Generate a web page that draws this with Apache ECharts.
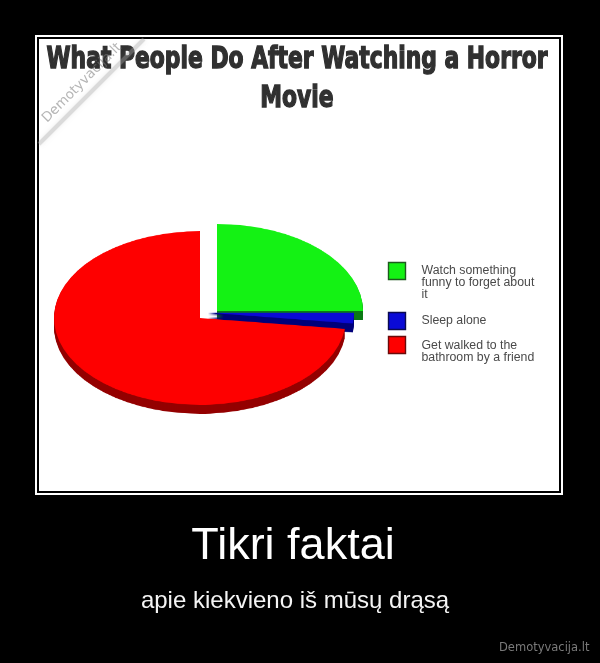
<!DOCTYPE html>
<html>
<head>
<meta charset="utf-8">
<script src="https://cdn.jsdelivr.net/npm/echarts@6/dist/echarts.min.js"></script>
<style>
  html, body { margin: 0; padding: 0; background: #000; }
  #page { position: absolute; left: 0; top: 0; width: 600px; height: 663px; }
  #pie { position: absolute; left: 0; top: 199px; width: 600px; height: 400px;
         transform: scaleY(0.595); transform-origin: 0 0; }
</style>
</head>
<body>
<div id="page"></div>
<div id="pie"></div>
<script>
// ---------- data ----------
const categories = ['Watch something funny to forget about it', 'Sleep alone', 'Get walked to the bathroom by a friend'];
const values = [25, 2, 73];
const legendLabels = ['Watch something\nfunny to forget about\nit', 'Sleep alone', 'Get walked to the\nbathroom by a friend'];
const titleLines = ['What People Do After Watching a Horror', 'Movie'];
const captionTitle = 'Tikri faktai';
const captionText = 'apie kiekvieno iš mūsų drąsą';
const siteMark = 'Demotyvacija.lt';

// ---------- styles / layout ----------
const topColors = ['#14f214', '#0a0ad6', '#fe0000'];
const sideColors = ['#0b7a14', '#00007a', '#940000'];
const legendBorders = ['#1d5a1d', '#0a0a50', '#6a0a0a'];
const sliceCenters = [[217, 188], [208, 191], [200, 200]]; // pie-local (unsquashed) coords
const R = 146;
const DEPTHS = [15, 13, 11, 9, 7, 5, 3, 1]; // extrusion layers (pie-local px)

// ---------- pie (tilted with CSS scaleY) ----------
let zc = 0;
function pieSeries(idx, depth) {
  const c = sliceCenters[idx];
  const side = depth > 0;
  zc += 1;
  return {
    type: 'pie', silent: true, animation: false, z: zc,
    startAngle: 90, clockwise: true, radius: R,
    center: [c[0], c[1] + depth],
    label: { show: false }, labelLine: { show: false },
    emphasis: { disabled: true },
    data: categories.map((name, i) => ({
      name: name, value: values[i],
      itemStyle: { borderWidth: 0,
        color: i === idx ? (side ? sideColors[i] : topColors[i]) : 'rgba(0,0,0,0)' }
    }))
  };
}
const series = [];
[0, 1, 2].forEach(idx => {
  DEPTHS.forEach(d => series.push(pieSeries(idx, d)));
  series.push(pieSeries(idx, 0));
});
const pieChart = echarts.init(document.getElementById('pie'), null, { renderer: 'canvas' });
pieChart.setOption({ animation: false, series: series });

// ---------- page: frame, texts, legend ----------
const mctx = document.createElement('canvas').getContext('2d');
const titleFont = 'bold 30px "DejaVu Sans Condensed", "DejaVu Sans", sans-serif';
mctx.font = titleFont;
const titleScale = 501 / mctx.measureText(titleLines[0]).width;

const g = [];
g.push({ type: 'rect', shape: { x: 35, y: 35, width: 528, height: 460 }, style: { fill: '#fff' } });
g.push({ type: 'rect', shape: { x: 37, y: 37, width: 524, height: 456 }, style: { fill: '#000' } });
g.push({ type: 'rect', shape: { x: 39, y: 39, width: 520, height: 452 }, style: { fill: '#fff' } });

const titleY = [59.8, 99.2];
titleLines.forEach((t, i) => {
  g.push({ type: 'text', x: 297, y: titleY[i], scaleX: titleScale,
    style: { text: t, font: titleFont, fill: '#303030', stroke: '#303030', lineWidth: 1.3,
      align: 'center', verticalAlign: 'middle' } });
});

// diagonal watermark in top-left corner
g.push({ type: 'line', shape: { x1: 39, y1: 144, x2: 144, y2: 39 },
  style: { stroke: 'rgba(170,170,170,0.35)', lineWidth: 4, shadowBlur: 5, shadowColor: 'rgba(150,150,150,0.5)' } });
g.push({ type: 'text', x: 82, y: 83, rotation: Math.PI / 4,
  style: { text: siteMark, font: '13.5px "DejaVu Sans", sans-serif', fill: 'rgba(120,120,120,0.55)',
    align: 'center', verticalAlign: 'middle' } });

// legend
const legendIconY = [262, 312, 336];
const legendTextY = [265, 315, 340];
categories.forEach((c, i) => {
  g.push({ type: 'rect', shape: { x: 388.5, y: legendIconY[i] + 0.5, width: 17, height: 17 },
    style: { fill: topColors[i], stroke: legendBorders[i], lineWidth: 1.4 } });
  g.push({ type: 'text', x: 421.5, y: legendTextY[i],
    style: { text: legendLabels[i], font: '12.3px "Liberation Sans", Arial, sans-serif', fill: '#4a4a4a',
      align: 'left', verticalAlign: 'top', lineHeight: 12 } });
});

// captions
g.push({ type: 'text', x: 293, y: 547,
  style: { text: captionTitle, font: '45px "Liberation Sans", Arial, sans-serif', fill: '#ffffff',
    align: 'center', verticalAlign: 'middle' } });
g.push({ type: 'text', x: 295, y: 601.7,
  style: { text: captionText, font: '24px "Liberation Sans", Arial, sans-serif', fill: '#f4f4f4',
    align: 'center', verticalAlign: 'middle' } });
g.push({ type: 'text', x: 499, y: 648.4,
  style: { text: siteMark, font: '11.5px "DejaVu Sans", sans-serif', fill: '#7a7a7a',
    align: 'left', verticalAlign: 'middle' } });

const page = echarts.init(document.getElementById('page'), null, { renderer: 'canvas' });
page.setOption({ backgroundColor: '#000', animation: false, graphic: { elements: g } });
</script>
</body>
</html>
